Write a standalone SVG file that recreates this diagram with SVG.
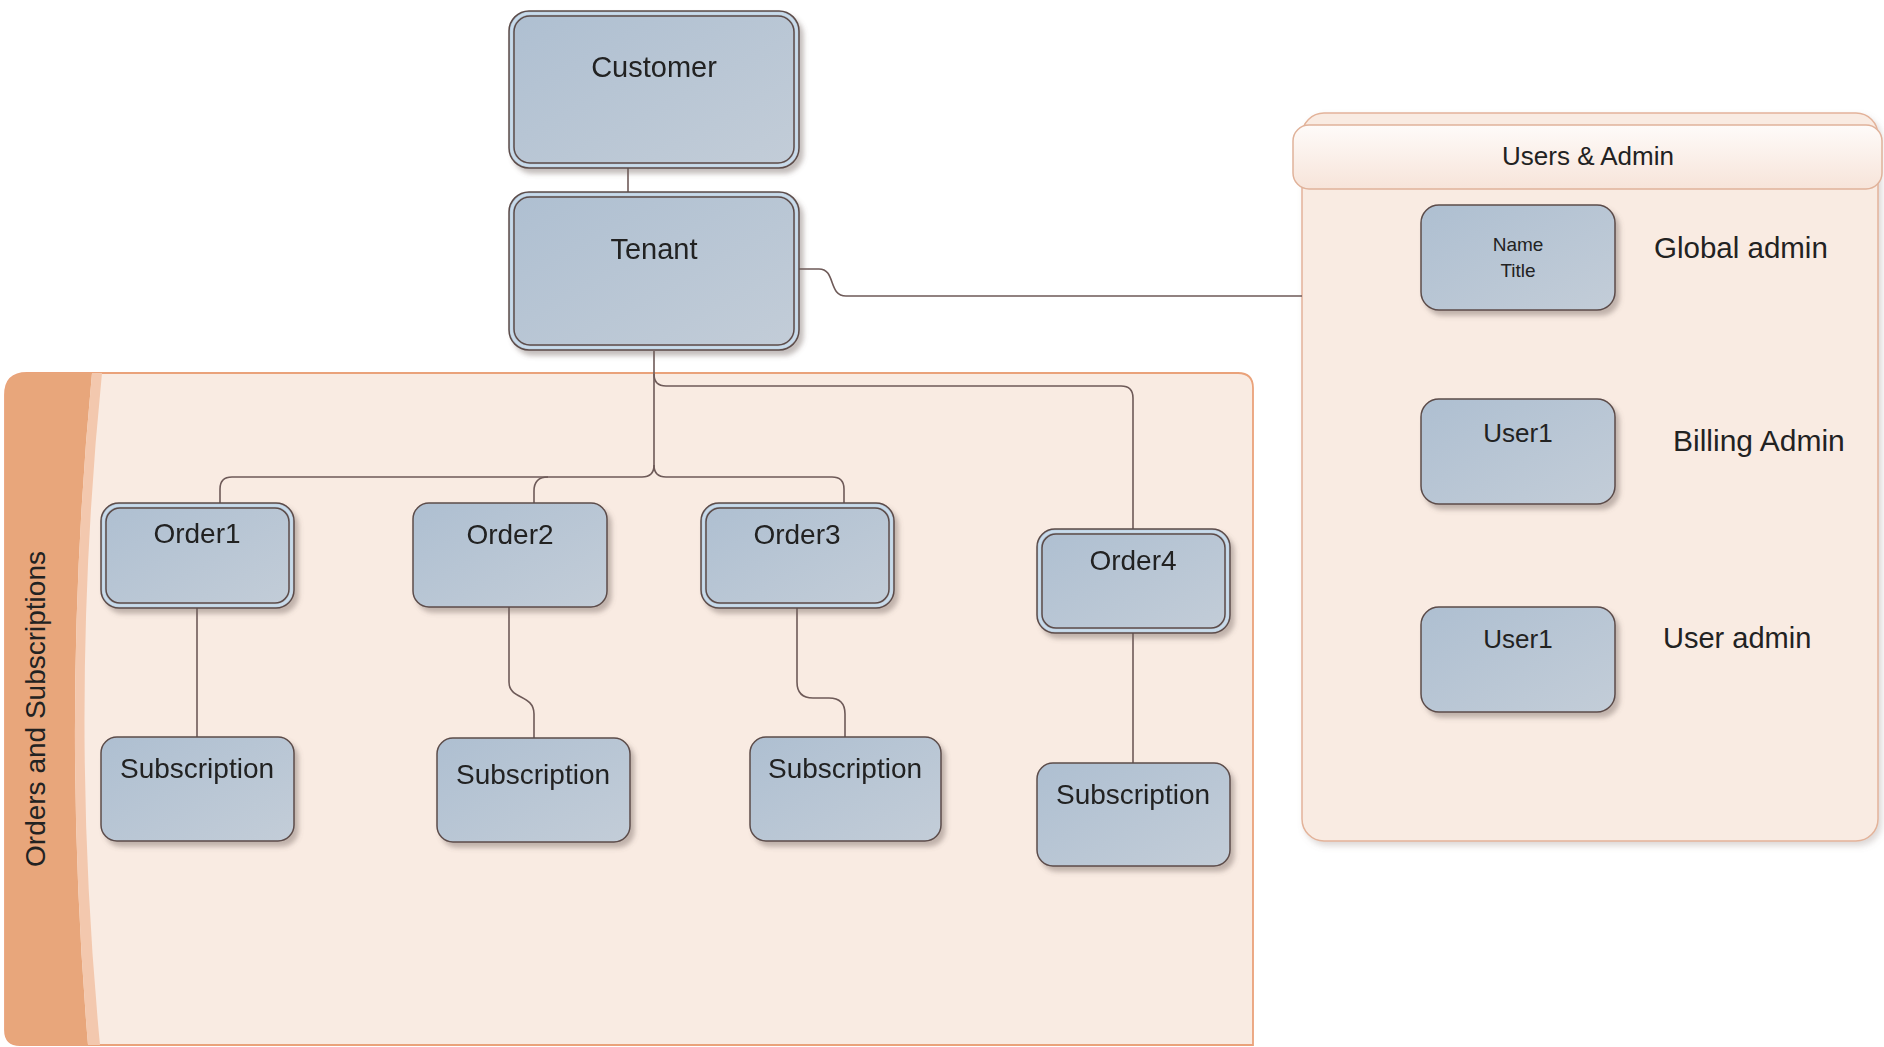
<svg xmlns="http://www.w3.org/2000/svg" width="1884" height="1047" viewBox="0 0 1884 1047">
<defs>
<linearGradient id="nodeFill" x1="0" y1="0" x2="1" y2="1">
<stop offset="0" stop-color="#aebfd1"/>
<stop offset="1" stop-color="#c3cdd8"/>
</linearGradient>
<linearGradient id="headFill" x1="0" y1="0" x2="0" y2="1">
<stop offset="0" stop-color="#fefbf9"/>
<stop offset="1" stop-color="#f7e4d9"/>
</linearGradient>
<filter id="shadow" x="-10%" y="-10%" width="125%" height="130%">
<feDropShadow dx="4" dy="5" stdDeviation="2.5" flood-color="#6b5b58" flood-opacity="0.4"/>
</filter>
<filter id="pshadow" x="-5%" y="-5%" width="110%" height="110%">
<feDropShadow dx="3" dy="4" stdDeviation="3" flood-color="#8a7a76" flood-opacity="0.3"/>
</filter>
</defs>
<style>
text{font-family:"Liberation Sans",Arial,sans-serif;fill:#222;text-anchor:middle}
.box{fill:url(#nodeFill);stroke:#5c4c4a;stroke-width:1.5}
.ring{fill:none;stroke:#c8dbeb;stroke-width:2.5}
.inner{fill:none;stroke:#5c4c4a;stroke-width:1.5}
.conn{fill:none;stroke:#6e5a58;stroke-width:1.6}
.big{font-size:29px}
.mid{font-size:28px}
.lbl{font-size:29.5px;text-anchor:start}
</style>
<rect width="1884" height="1047" fill="#ffffff"/>

<g id="orders-panel">
<path d="M5 395 Q5 373 27 373 H1238 Q1253 373 1253 388 V1045 H20 Q5 1045 5 1030 Z" fill="#f9ebe2" stroke="#eaa27a" stroke-width="1.8"/>
<path d="M5 395 Q5 373 27 373 H92 Q60 709 88 1045 H20 Q5 1045 5 1030 Z" fill="#e8a67b"/>
<path d="M92 373 H102 Q68 709 100 1045 H88 Q60 709 92 373 Z" fill="#f3c8ae"/>
<text x="35" y="709" transform="rotate(-90 35 709)" dy="10" style="font-size:28px">Orders and Subscriptions</text>
</g>

<g id="users-panel">
<rect x="1302" y="113" width="576" height="728" rx="22" fill="#f9ebe2" stroke="#e3b39a" stroke-width="1.5" filter="url(#pshadow)"/>
<rect x="1293" y="125" width="589" height="64" rx="16" fill="url(#headFill)" stroke="#e0b29a" stroke-width="1.5"/>
<text x="1588" y="165" style="font-size:26px">Users &amp; Admin</text>
</g>

<g id="connectors">
<path class="conn" d="M628 168 V192"/>
<path class="conn" d="M799 269 H819 C836 269 828 296 846 296 H1302"/>
<path class="conn" d="M654 351 V465 Q654 477 642 477 H232 Q220 477 220 489 V503"/>
<path class="conn" d="M654 465 Q654 477 666 477 H832 Q844 477 844 489 V503"/>
<path class="conn" d="M548 477 Q534 477 534 491 V503"/>
<path class="conn" d="M654 374 Q654 386 666 386 H1121 Q1133 386 1133 398 V529"/>
<path class="conn" d="M197 608 V737"/>
<path class="conn" d="M509 607 V682 C509 700 534 694 534 714 V738"/>
<path class="conn" d="M797 608 V682 Q797 698 813 698 H829 Q845 698 845 714 V737"/>
<path class="conn" d="M1133 633 V763"/>
</g>

<g id="customer" filter="url(#shadow)">
<rect class="box" x="509" y="11" width="290" height="157" rx="20"/>
<rect class="ring" x="511.5" y="13.5" width="285" height="152" rx="18"/>
<rect class="inner" x="514" y="16" width="280" height="147" rx="16"/>
<text class="big" x="654" y="77">Customer</text>
</g>
<g id="tenant" filter="url(#shadow)">
<rect class="box" x="509" y="192" width="290" height="158" rx="20"/>
<rect class="ring" x="511.5" y="194.5" width="285" height="153" rx="18"/>
<rect class="inner" x="514" y="197" width="280" height="148" rx="16"/>
<text class="big" x="654" y="259">Tenant</text>
</g>

<g id="order1" filter="url(#shadow)">
<rect class="box" x="101" y="503" width="193" height="105" rx="18"/>
<rect class="ring" x="103.5" y="505.5" width="188" height="100" rx="16"/>
<rect class="inner" x="106" y="508" width="183" height="95" rx="14"/>
<text class="mid" x="197" y="543">Order1</text>
</g>
<g id="order2" filter="url(#shadow)">
<rect class="box" x="413" y="503" width="194" height="104" rx="16"/>
<text class="mid" x="510" y="544">Order2</text>
</g>
<g id="order3" filter="url(#shadow)">
<rect class="box" x="701" y="503" width="193" height="105" rx="18"/>
<rect class="ring" x="703.5" y="505.5" width="188" height="100" rx="16"/>
<rect class="inner" x="706" y="508" width="183" height="95" rx="14"/>
<text class="mid" x="797" y="544">Order3</text>
</g>
<g id="order4" filter="url(#shadow)">
<rect class="box" x="1037" y="529" width="193" height="104" rx="18"/>
<rect class="ring" x="1039.5" y="531.5" width="188" height="99" rx="16"/>
<rect class="inner" x="1042" y="534" width="183" height="94" rx="14"/>
<text class="mid" x="1133" y="570">Order4</text>
</g>

<g id="subscription1" filter="url(#shadow)">
<rect class="box" x="101" y="737" width="193" height="104" rx="16"/>
<text class="mid" x="197" y="778">Subscription</text>
</g>
<g id="subscription2" filter="url(#shadow)">
<rect class="box" x="437" y="738" width="193" height="104" rx="16"/>
<text class="mid" x="533" y="784">Subscription</text>
</g>
<g id="subscription3" filter="url(#shadow)">
<rect class="box" x="750" y="737" width="191" height="104" rx="16"/>
<text class="mid" x="845" y="778">Subscription</text>
</g>
<g id="subscription4" filter="url(#shadow)">
<rect class="box" x="1037" y="763" width="193" height="103" rx="16"/>
<text class="mid" x="1133" y="804">Subscription</text>
</g>

<g id="global-admin">
<rect class="box" x="1421" y="205" width="194" height="105" rx="18" filter="url(#shadow)"/>
<text x="1518" y="251" style="font-size:19px">Name</text>
<text x="1518" y="277" style="font-size:19px">Title</text>
<text class="lbl" x="1654" y="258">Global admin</text>
</g>
<g id="billing-admin">
<rect class="box" x="1421" y="399" width="194" height="105" rx="18" filter="url(#shadow)"/>
<text x="1518" y="442" style="font-size:26px">User1</text>
<text class="lbl" x="1673" y="451" style="font-size:30px">Billing Admin</text>
</g>
<g id="user-admin">
<rect class="box" x="1421" y="607" width="194" height="105" rx="18" filter="url(#shadow)"/>
<text x="1518" y="648" style="font-size:26px">User1</text>
<text class="lbl" x="1663" y="648" style="font-size:29px">User admin</text>
</g>
</svg>
